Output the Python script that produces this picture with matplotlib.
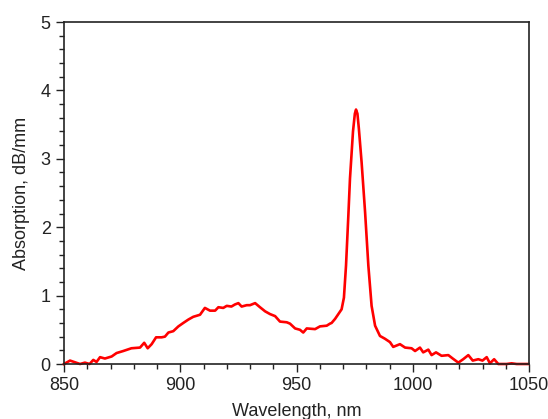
import matplotlib
matplotlib.use("Agg")
import matplotlib.pyplot as plt
from matplotlib.ticker import MultipleLocator

wavelength = [850, 852.6, 856.9, 859, 861, 862.6, 864, 865.5, 867.6, 870.5, 872.6, 875.5, 879,
              882.7, 884.5, 886, 887.7, 889.6, 892, 893.4, 894.9, 897, 899.2, 901.3, 903.5,
              905.6, 908.5, 910.6, 912.8, 915, 916.4, 918.5, 920, 922, 923.5, 925, 926.4,
              928.6, 930, 932.2, 934.3, 936.5, 938.6, 940.8, 942.9, 945.8, 947.2, 949.4,
              951.5, 952.9, 954.4, 958, 960.1, 963, 964.4, 965.1, 966.6, 968, 969.4, 970.4,
              971.3, 972.3, 973, 974.3, 975.1, 975.6, 976.2, 976.8, 978, 979.5, 980.9, 982.3,
              983.8, 985.9, 988, 990.2, 991.6, 994.5, 996.7, 999.5, 1001, 1003.1, 1004.5,
              1006.7, 1008.1, 1010, 1012.4, 1015.3, 1017.2, 1019.6, 1021.7, 1023.9, 1025.8,
              1028.2, 1030, 1031.8, 1033.2, 1035, 1036.8, 1040.4, 1042.5, 1044.7, 1046.9, 1049.7]
absorption = [0.0, 0.05, 0.0, 0.02, 0.0, 0.06, 0.03, 0.1, 0.08, 0.11, 0.16, 0.19, 0.23,
              0.24, 0.31, 0.23, 0.29, 0.39, 0.39, 0.40, 0.46, 0.48, 0.55, 0.60, 0.65,
              0.69, 0.72, 0.82, 0.78, 0.78, 0.83, 0.82, 0.85, 0.84, 0.87, 0.89, 0.84,
              0.86, 0.86, 0.89, 0.83, 0.77, 0.73, 0.70, 0.62, 0.61, 0.59, 0.52,
              0.50, 0.46, 0.52, 0.51, 0.55, 0.56, 0.59, 0.60, 0.66, 0.73, 0.80, 0.97,
              1.44, 2.17, 2.71, 3.40, 3.66, 3.72, 3.66, 3.45, 2.95, 2.22, 1.44, 0.85,
              0.56, 0.41, 0.37, 0.32, 0.25, 0.29, 0.24, 0.23, 0.19, 0.24, 0.17,
              0.21, 0.13, 0.17, 0.12, 0.13, 0.08, 0.02, 0.07, 0.13, 0.05,
              0.07, 0.05, 0.10, 0.01, 0.07, 0.0, 0.0, 0.01, 0.0, 0.0, 0.0]

plt.rcParams['font.family'] = ['Liberation Sans', 'DejaVu Sans']

fig = plt.figure(figsize=(5.48, 4.19), dpi=100)
ax = fig.add_axes([64/548, 1 - 364/419, (529-64)/548, (364-22)/419])
ax.plot(wavelength, absorption, color='#ff0000', lw=1.9, clip_on=False)
ax.set_xlim(850, 1050)
ax.set_ylim(0, 5)
ax.xaxis.set_major_locator(MultipleLocator(50))
ax.xaxis.set_minor_locator(MultipleLocator(10))
ax.yaxis.set_major_locator(MultipleLocator(1))
ax.yaxis.set_minor_locator(MultipleLocator(0.2))
ax.tick_params(which='both', direction='out', top=False, right=False, labelsize=13,
               width=1, colors='#222222', labelcolor='#222222')
ax.tick_params(which='major', length=6)
ax.tick_params(which='minor', length=3.5)
for s in ax.spines.values():
    s.set_linewidth(1.2)
    s.set_color('#222222')
ax.set_xlabel('Wavelength, nm', fontsize=13, color='#222222', labelpad=6)
ax.set_ylabel('Absorption, dB/mm', fontsize=13, color='#222222', labelpad=8)
fig.savefig('out.png', dpi=100)
